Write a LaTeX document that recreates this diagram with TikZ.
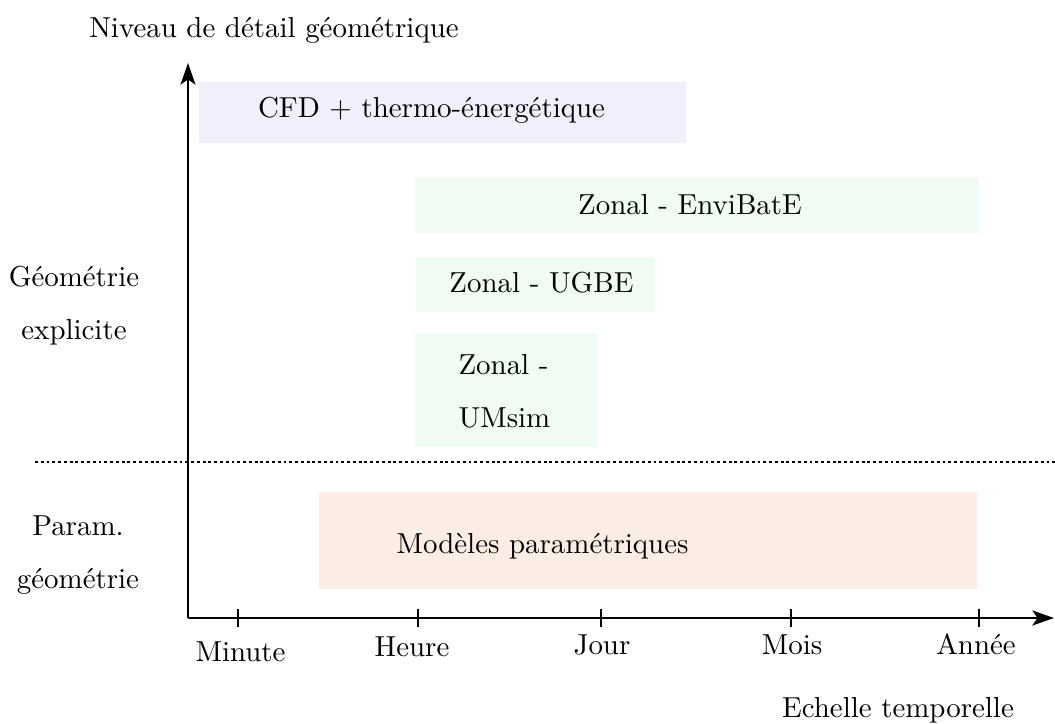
\documentclass[tikz,border=0pt]{standalone}
\usepackage{fontspec}
\usetikzlibrary{arrows.meta}
\definecolor{cfdfill}{RGB}{240,240,253}
\definecolor{zonalfill}{RGB}{240,252,241}
\definecolor{paramfill}{RGB}{252,237,228}
\tikzstyle{axis} = [semithick, -{Stealth[length=7.5pt, width=5.2pt, inset=1.8pt]}]
\tikzstyle{tick} = [thin]
\tikzstyle{lbl} = [inner sep=0pt, anchor=base]
\tikzstyle{side} = [inner sep=0pt, align=center]

\begin{document}
\begin{tikzpicture}[x=0.346pt, y=-0.346pt] % 1 unite = 1 pixel
\useasboundingbox (0,0) rectangle (1055,724);
% zones des modeles
\fill[cfdfill] (199,82) rectangle (686,143);
\fill[zonalfill] (415,178) rectangle (979,233);
\fill[zonalfill] (416,257) rectangle (655,312);
\fill[zonalfill] (415,333) rectangle (597,447);
\fill[paramfill] (319,492) rectangle (977,589);
\node (cfd) [lbl] at (431.5,118) {CFD + thermo-énergétique};
\node (envibate) [lbl] at (690,215) {Zonal - EnviBatE};
\node (ugbe) [lbl] at (541.5,293) {Zonal - UGBE};
\node (umsim) [inner sep=0pt, align=left, anchor=west] at (458,391) {Zonal -\\[6.4pt]UMsim};
\node (param) [lbl, anchor=base west] at (396,554) {Modèles paramétriques};

% axes
\coordinate (O) at (188,618);
\coordinate (ytop) at (188,63);
\coordinate (xend) at (1054,618);
\draw [axis] (O) -- (ytop);
\draw [axis] (O) -- (xend);
\draw [dash pattern=on 1pt off 1pt] (35,462) -- (1055,462);
\foreach \x in {238,418,601,791,979}
  \draw [tick] (\x,609) -- (\x,627);
\foreach \x/\y/\t [count=\i] in {240.5/662/Minute, 412/657/Heure, 602/655/Jour, 792/655/Mois, 976/655/Année}
  \node (t\i) [lbl] at (\x,\y) {\t};
\node (ylabel) [lbl] at (274,38) {Niveau de détail géométrique};
\node (xlabel) [lbl] at (898,718) {Echelle temporelle};
\node (explicit) [side] at (74,306) {Géométrie\\[6.4pt]explicite};
\node (paramgeo) [side] at (78,555) {Param.\\[6.4pt]géométrie};
\end{tikzpicture}
\end{document}
